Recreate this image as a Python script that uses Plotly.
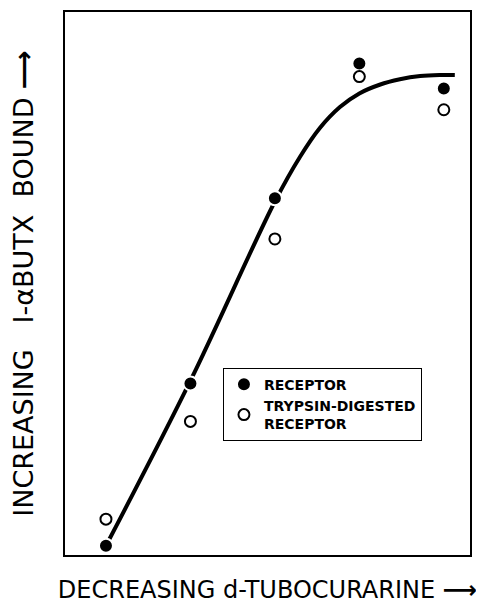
import plotly.graph_objects as go

# Data (arbitrary units)
positions = [1, 2, 3, 4, 5]
receptor = [1.7, 31.6, 65.7, 90.5, 85.9]
trypsin_receptor = [6.6, 24.6, 58.2, 88.1, 82.0]
curve_x = [1.0, 2.0, 3.0, 3.30, 3.53, 3.77, 4.0, 4.24, 4.48, 4.72, 4.95, 5.13]
curve_y = [1.7, 32.1, 65.1, 73.4, 78.6, 82.5, 85.0, 86.6, 87.6, 88.2, 88.4, 88.4]

x_title = "DECREASING d-TUBOCURARINE <b>⟶</b>"
y_title = "INCREASING   I-αBUTX  BOUND <b>⟶</b>"

fig = go.Figure()
fig.add_trace(go.Scatter(x=curve_x, y=curve_y, mode="lines", line=dict(color="black", width=4, shape="spline"),
                         showlegend=False, hoverinfo="skip"))
fig.add_trace(go.Scatter(x=positions, y=receptor, mode="markers", name="<b>RECEPTOR</b>",
                         marker=dict(color="black", size=14, line=dict(color="white", width=2))))
fig.add_trace(go.Scatter(x=positions, y=trypsin_receptor, mode="markers", name="<b>TRYPSIN-DIGESTED<br>RECEPTOR</b>",
                         marker=dict(color="white", size=11, line=dict(color="black", width=2))))

axis_common = dict(showgrid=False, zeroline=False, showticklabels=False, ticks="",
                   showline=True, linecolor="black", linewidth=2, mirror=True)
fig.update_xaxes(range=[0.515, 5.31], title=dict(text=x_title, standoff=26,
                 font=dict(family="DejaVu Sans", size=24, color="black")), **axis_common)
fig.update_yaxes(range=[0, 100], title=dict(text=y_title, standoff=35,
                 font=dict(family="DejaVu Sans", size=27, color="black")), **axis_common)

fig.update_layout(
    width=468, height=596,
    margin=dict(l=57, r=6, t=2, b=49),
    paper_bgcolor="white", plot_bgcolor="white",
    font=dict(family="DejaVu Sans", color="black"),
    legend=dict(x=0.39, y=0.345, xanchor="left", yanchor="top",
                bordercolor="black", borderwidth=1, bgcolor="white",
                font=dict(family="DejaVu Sans", size=14, color="black"),
                tracegroupgap=4, itemwidth=30),
)

fig.write_html("out.html")
